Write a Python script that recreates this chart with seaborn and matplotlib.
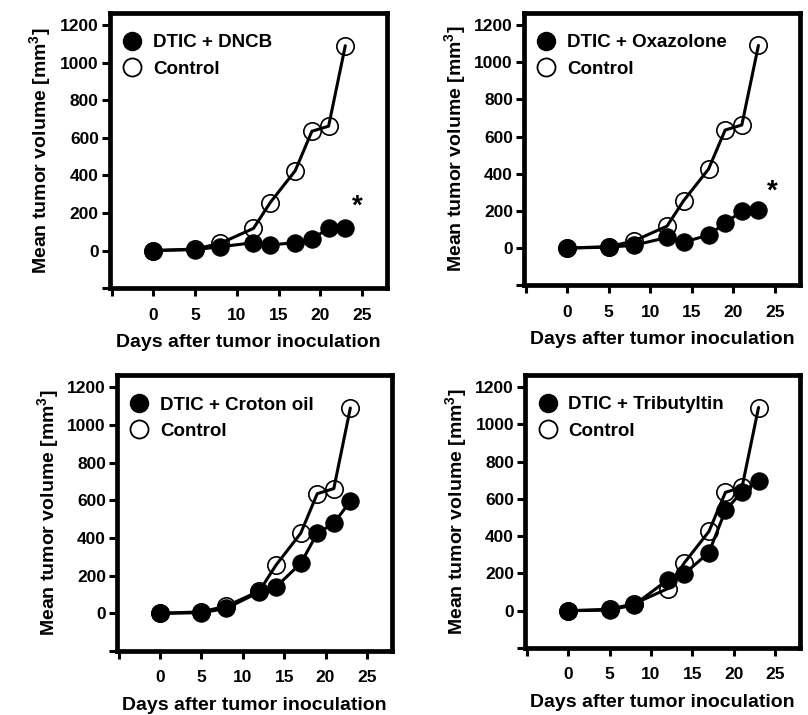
import matplotlib
matplotlib.use("Agg")
import matplotlib.pyplot as plt
import seaborn as sns
import pandas as pd
from matplotlib.lines import Line2D

# ---- data ----
days = [0, 5, 8, 12, 14, 17, 19, 21, 23]
control = [0, 8, 38, 118, 255, 425, 635, 662, 1090]
dncb = [0, 5, 20, 42, 30, 42, 62, 118, 122]
oxazolone = [0, 5, 15, 57, 32, 70, 135, 198, 205]
croton_oil = [0, 3, 26, 113, 140, 265, 425, 478, 595]
tributyltin = [0, 3, 32, 165, 197, 312, 538, 638, 695]

treatment_labels = ["DTIC + DNCB", "DTIC + Oxazolone", "DTIC + Croton oil", "DTIC + Tributyltin"]
treatment_values = [dncb, oxazolone, croton_oil, tributyltin]
significant = [True, True, False, False]
star_pos = [(24.4, 235), (24.7, 305)]

x_ticks = [-5, 0, 5, 10, 15, 20, 25]
x_ticklabels = ["", "0", "5", "10", "15", "20", "25"]
y_ticks = [-200, 0, 200, 400, 600, 800, 1000, 1200]
y_ticklabels = ["", "0", "200", "400", "600", "800", "1000", "1200"]

xlabel = "Days after tumor inoculation"
ylabel = r"Mean tumor volume [mm$^{\mathbf{3}}$]"

# ---- style ----
sns.set_theme(style="ticks")
plt.rcParams["font.family"] = ["Liberation Sans", "DejaVu Sans"]
plt.rcParams["font.weight"] = "bold"
plt.rcParams["text.color"] = "black"
plt.rcParams["axes.labelcolor"] = "black"
plt.rcParams["xtick.color"] = "black"
plt.rcParams["ytick.color"] = "black"
plt.rcParams["legend.labelcolor"] = "black"
plt.rcParams["mathtext.fontset"] = "custom"
plt.rcParams["mathtext.bf"] = "Liberation Sans:bold"
plt.rcParams["mathtext.rm"] = "Liberation Sans:bold"

fig = plt.figure(figsize=(8.08, 7.15), dpi=100)
rects = [
    (0.136, 0.597, 0.343, 0.385),
    (0.6485, 0.601, 0.3416, 0.381),
    (0.1448, 0.0895, 0.340, 0.386),
    (0.650, 0.0937, 0.340, 0.382),
]

ms = 12.5
for i, rect in enumerate(rects):
    ax = fig.add_axes(rect)
    df_c = pd.DataFrame({"day": days, "vol": control})
    df_t = pd.DataFrame({"day": days, "vol": treatment_values[i]})
    sns.lineplot(data=df_c, x="day", y="vol", ax=ax, color="black", linewidth=2.2,
                 marker="o", markersize=ms, markerfacecolor="none",
                 markeredgecolor="black", markeredgewidth=1.2, zorder=2)
    sns.lineplot(data=df_t, x="day", y="vol", ax=ax, color="black", linewidth=2.2,
                 marker="o", markersize=ms, markerfacecolor="black",
                 markeredgecolor="black", zorder=3)
    ax.set_xlim(-5.2, 28.0)
    ax.set_ylim(-200, 1265)
    ax.set_xticks(x_ticks)
    ax.set_xticklabels(x_ticklabels)
    ax.set_yticks(y_ticks)
    ax.set_yticklabels(y_ticklabels)
    for s in ax.spines.values():
        s.set_visible(True)
        s.set_linewidth(3.4)
        s.set_color("black")
    ax.tick_params(axis="both", direction="out", length=6, width=2.2,
                   labelsize=12.5, color="black", labelcolor="black")
    ax.tick_params(axis="x", pad=8)
    ax.tick_params(axis="y", pad=2)
    for lab in ax.get_xticklabels() + ax.get_yticklabels():
        lab.set_fontweight("bold")
    ax.set_xlabel(xlabel, fontsize=14, fontweight="bold", labelpad=8, color="black")
    ax.set_ylabel(ylabel, fontsize=14, fontweight="bold", labelpad=4, color="black")
    handles = [
        Line2D([], [], linestyle="none", marker="o", markersize=13,
               markerfacecolor="black", markeredgecolor="black"),
        Line2D([], [], linestyle="none", marker="o", markersize=13,
               markerfacecolor="none", markeredgecolor="black", markeredgewidth=1.3),
    ]
    ax.legend(handles, [treatment_labels[i], "Control"], loc="upper left",
              bbox_to_anchor=(0.0, 0.97), frameon=False, handlelength=1.0,
              handletextpad=0.6, labelspacing=0.5, borderaxespad=0.3,
              labelcolor="black", prop={"weight": "bold", "size": 13.5})
    if significant[i]:
        sx, sy = star_pos[i]
        ax.text(sx, sy, "*", fontsize=20, fontweight="bold", ha="center",
                va="center", color="black")
    ax.set_facecolor("white")

fig.savefig("out.png", dpi=100, facecolor="white")
